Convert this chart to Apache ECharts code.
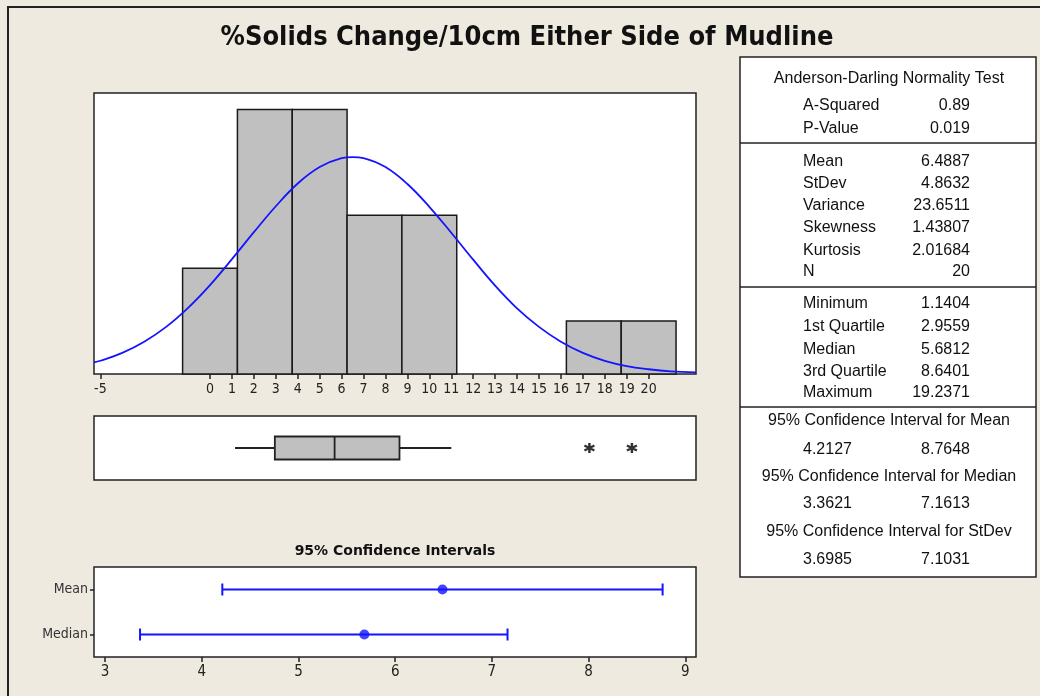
<!DOCTYPE html>
<html lang="en">
<head>
<meta charset="UTF-8">
<title>%Solids Change/10cm Either Side of Mudline</title>
<script src="https://cdn.jsdelivr.net/npm/echarts@6/dist/echarts.min.js"></script>
<style>
    html,body{margin:0;padding:0;background:#EEEAE0;}
    #main{width:1040px;height:696px;}
</style>
</head>
<body>
<div id="main"></div>
<script>
// histogram
var binCenters = [0, 2.5, 5, 7.5, 10, 12.5, 15, 17.5, 20];
var binCounts = [2, 5, 5, 3, 3, 0, 0, 1, 1];
var binWidth = 2.5;
var histTicks = [-5, 0, 1, 2, 3, 4, 5, 6, 7, 8, 9, 10, 11, 12, 13, 14, 15, 16, 17, 18, 19, 20];
// fitted normal curve
var curveX = [-5.29, -5, -4, -3, -2, -1, 0, 1, 2, 3, 4, 5, 6, 6.5, 7, 8, 9, 10, 11, 12, 13, 14, 15, 16, 17, 18, 19, 20, 21, 22.16];
var curveY = [0.22, 0.25, 0.40, 0.61, 0.89, 1.25, 1.68, 2.17, 2.68, 3.17, 3.60, 3.91, 4.08, 4.10, 4.08, 3.91, 3.59, 3.16, 2.67, 2.16, 1.67, 1.24, 0.89, 0.61, 0.40, 0.25, 0.15, 0.09, 0.05, 0.03];
// boxplot: lower whisker, Q1, median, Q3, upper whisker
var boxStats = [1.1404, 2.9559, 5.6812, 8.6401, 11.0];
var outliers = [17.3, 19.2371];
// confidence intervals
var ciNames = ['Mean', 'Median'];
var ciLow = [4.2127, 3.3621];
var ciHigh = [8.7648, 7.1613];
var ciCenter = [6.4887, 5.6812];
var ciTicks = [3, 4, 5, 6, 7, 8, 9];
// summary table
var adLabels = ['A-Squared', 'P-Value'];
var adValues = ['0.89', '0.019'];
var momLabels = ['Mean', 'StDev', 'Variance', 'Skewness', 'Kurtosis', 'N'];
var momValues = ['6.4887', '4.8632', '23.6511', '1.43807', '2.01684', '20'];
var qLabels = ['Minimum', '1st Quartile', 'Median', '3rd Quartile', 'Maximum'];
var qValues = ['1.1404', '2.9559', '5.6812', '8.6401', '19.2371'];
var ciTitles = ['95% Confidence Interval for Mean', '95% Confidence Interval for Median', '95% Confidence Interval for StDev'];
var ciTableLow = ['4.2127', '3.3621', '3.6985'];
var ciTableHigh = ['8.7648', '7.1613', '7.1031'];

var txtFont = '"Liberation Sans", Arial, sans-serif';
var narrowFont = '"Liberation Sans Narrow", "DejaVu Sans Condensed", "Liberation Sans", sans-serif';
var blue = '#1414ff';

var graphics = [];
graphics.push({type: 'rect', shape: {x: 8, y: 7, width: 1100, height: 800},
    style: {fill: 'none', stroke: '#222', lineWidth: 2}, silent: true});
graphics.push({type: 'text', style: {text: '%Solids Change/10cm Either Side of Mudline', x: 527, y: 38,
    font: 'bold 27px "DejaVu Sans Condensed", "DejaVu Sans", sans-serif', fill: '#111', textAlign: 'center', textVerticalAlign: 'middle'}});
graphics.push({type: 'text', style: {text: '95% Confidence Intervals', x: 395, y: 551,
    font: 'bold 14px "DejaVu Sans", sans-serif', fill: '#111', textAlign: 'center', textVerticalAlign: 'middle'}});

// table
graphics.push({type: 'rect', shape: {x: 740, y: 57, width: 296, height: 520},
    style: {fill: '#fff', stroke: '#222', lineWidth: 1.5}});
[143, 287, 407].forEach(function (y) {
    graphics.push({type: 'line', shape: {x1: 740, y1: y, x2: 1036, y2: y}, style: {stroke: '#222', lineWidth: 1.5}});
});
function tText(t, x, y, align) {
    graphics.push({type: 'text', style: {text: t, x: x, y: y, font: '16px ' + txtFont, fill: '#111',
        textAlign: align, textVerticalAlign: 'middle'}});
}
tText('Anderson-Darling Normality Test', 889, 79, 'center');
var rowsAD = [106, 129], rowsMom = [162, 184, 206, 228, 251, 272], rowsQ = [304, 327, 350, 372, 393];
adLabels.forEach(function (l, i) { tText(l, 803, rowsAD[i], 'left'); tText(adValues[i], 970, rowsAD[i], 'right'); });
momLabels.forEach(function (l, i) { tText(l, 803, rowsMom[i], 'left'); tText(momValues[i], 970, rowsMom[i], 'right'); });
qLabels.forEach(function (l, i) { tText(l, 803, rowsQ[i], 'left'); tText(qValues[i], 970, rowsQ[i], 'right'); });
var rowsCiT = [421, 477, 532], rowsCiV = [450, 504, 560];
ciTitles.forEach(function (l, i) {
    tText(l, 889, rowsCiT[i], 'center');
    tText(ciTableLow[i], 803, rowsCiV[i], 'left');
    tText(ciTableHigh[i], 970, rowsCiV[i], 'right');
});

var myChart = echarts.init(document.getElementById('main'));
var gridStyle = {show: true, backgroundColor: '#fff', borderColor: '#222', borderWidth: 1.5};
var histMin = -5.29, histMax = 22.16;

var option = {
    animation: false,
    backgroundColor: '#EEEAE0',
    graphic: graphics,
    grid: [
        Object.assign({left: 94, top: 93, width: 602, height: 281}, gridStyle),
        Object.assign({left: 94, top: 416, width: 602, height: 64}, gridStyle),
        Object.assign({left: 94, top: 567, width: 602, height: 90}, gridStyle)
    ],
    xAxis: [
        {gridIndex: 0, type: 'value', min: histMin, max: histMax, splitLine: {show: false},
            axisLine: {show: false},
            axisTick: {show: true, length: 5, customValues: histTicks, lineStyle: {color: '#222', width: 1.5}},
            axisLabel: {customValues: histTicks, fontSize: 14, color: '#222', margin: 8, fontFamily: narrowFont}},
        {gridIndex: 1, type: 'value', min: histMin, max: histMax, show: false, splitLine: {show: false}},
        {gridIndex: 2, type: 'value', min: 2.886, max: 9.11, splitLine: {show: false},
            axisLine: {show: false},
            axisTick: {show: true, length: 5, customValues: ciTicks, lineStyle: {color: '#222', width: 1.5}},
            axisLabel: {customValues: ciTicks, fontSize: 15, color: '#222', margin: 8, fontFamily: narrowFont}}
    ],
    yAxis: [
        {gridIndex: 0, type: 'value', min: 0, max: 5.31, show: false, splitLine: {show: false}},
        {gridIndex: 1, type: 'category', data: [''], show: false},
        {gridIndex: 2, type: 'category', data: ciNames, inverse: true,
            axisLine: {show: false},
            axisTick: {show: true, length: 4, alignWithLabel: true, lineStyle: {color: '#222', width: 1.5}},
            axisLabel: {fontSize: 14, color: '#333', margin: 6, fontFamily: narrowFont}}
    ],
    series: [
        {
            type: 'custom', xAxisIndex: 0, yAxisIndex: 0,
            data: binCenters.map(function (c, i) { return [c, binCounts[i]]; }),
            renderItem: function (params, api) {
                var c = api.value(0), n = api.value(1);
                if (!n) return null;
                var p1 = api.coord([c - binWidth / 2, n]);
                var p0 = api.coord([c + binWidth / 2, 0]);
                return {type: 'rect', shape: {x: p1[0], y: p1[1], width: p0[0] - p1[0], height: p0[1] - p1[1]},
                    style: {fill: '#C0C0C0', stroke: '#1a1a1a', lineWidth: 1.5}};
            }
        },
        {
            type: 'line', xAxisIndex: 0, yAxisIndex: 0, smooth: 0.4, showSymbol: false,
            data: curveX.map(function (x, i) { return [x, curveY[i]]; }),
            lineStyle: {color: blue, width: 1.8}
        },
        {
            // box without whisker caps, as in the original
            type: 'custom', xAxisIndex: 1, yAxisIndex: 1,
            data: [[0].concat(boxStats)],
            renderItem: function (params, api) {
                var lo = api.coord([api.value(1), 0]), q1 = api.coord([api.value(2), 0]);
                var md = api.coord([api.value(3), 0]), q3 = api.coord([api.value(4), 0]);
                var hi = api.coord([api.value(5), 0]);
                var y = lo[1], h = 11.5;
                var st = {stroke: '#222', lineWidth: 1.8};
                return {type: 'group', children: [
                    {type: 'line', shape: {x1: lo[0], y1: y, x2: q1[0], y2: y}, style: st},
                    {type: 'line', shape: {x1: q3[0], y1: y, x2: hi[0], y2: y}, style: st},
                    {type: 'rect', shape: {x: q1[0], y: y - h, width: q3[0] - q1[0], height: 2 * h},
                        style: {fill: '#C0C0C0', stroke: '#222', lineWidth: 1.8}},
                    {type: 'line', shape: {x1: md[0], y1: y - h, x2: md[0], y2: y + h}, style: st}
                ]};
            }
        },
        {
            type: 'scatter', xAxisIndex: 1, yAxisIndex: 1,
            data: outliers.map(function (v) { return [v, 0]; }),
            symbol: 'path://M5,0L5,10M0.7,2.5L9.3,7.5M0.7,7.5L9.3,2.5', symbolSize: 10,
            itemStyle: {color: 'none', borderColor: '#000', borderWidth: 2.5}
        },
        {
            type: 'custom', xAxisIndex: 2, yAxisIndex: 2,
            data: ciNames.map(function (n, i) { return [ciLow[i], ciHigh[i], i]; }),
            renderItem: function (params, api) {
                var a = api.coord([api.value(0), api.value(2)]);
                var b = api.coord([api.value(1), api.value(2)]);
                var st = {stroke: blue, lineWidth: 2};
                return {type: 'group', children: [
                    {type: 'line', shape: {x1: a[0], y1: a[1], x2: b[0], y2: b[1]}, style: st},
                    {type: 'line', shape: {x1: a[0], y1: a[1] - 6, x2: a[0], y2: a[1] + 6}, style: st},
                    {type: 'line', shape: {x1: b[0], y1: b[1] - 6, x2: b[0], y2: b[1] + 6}, style: st}
                ]};
            }
        },
        {
            type: 'scatter', xAxisIndex: 2, yAxisIndex: 2, symbol: 'circle', symbolSize: 10,
            data: ciNames.map(function (n, i) { return [ciCenter[i], i]; }),
            itemStyle: {color: blue}
        }
    ]
};
myChart.setOption(option);
</script>
</body>
</html>
